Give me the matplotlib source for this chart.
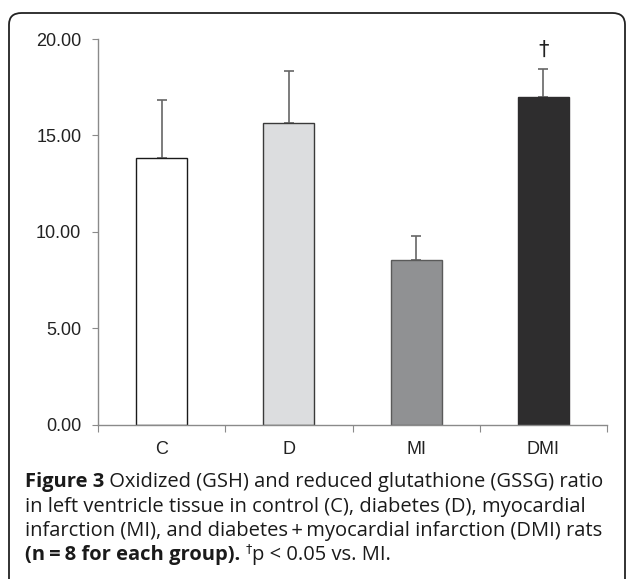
import matplotlib.pyplot as plt
from matplotlib.patches import FancyBboxPatch

# values
groups = ["C", "D", "MI", "DMI"]
means = [13.83, 15.65, 8.54, 17.0]
sem_upper = [3.0, 2.7, 1.25, 1.45]
bar_colors = ["#ffffff", "#dcdddf", "#909193", "#2e2d2e"]
edge_colors = ["#1a1a1a", "#3a3a3a", "#5a5a5a", "#2e2d2e"]
y_ticks = [0, 5, 10, 15, 20]
marker_group = "DMI"

W, H = 627, 579
fig = plt.figure(figsize=(W / 100, H / 100), dpi=100)

# rounded frame around the figure panel (runs off the right and bottom)
frame = FancyBboxPatch((9 / W, -20 / H), (625 - 9) / W, (H - 13 + 20) / H,
                       boxstyle="round,pad=0,rounding_size=0.02",
                       transform=fig.transFigure, fill=False,
                       edgecolor="#222222", linewidth=1.3, clip_on=False)
fig.patches.append(frame)

ax = fig.add_axes([98 / W, 1 - 424.5 / H, (607 - 98) / W, (424.5 - 39) / H])
x = [i + 0.5 for i in range(len(groups))]
ax.bar(x, means, width=0.4, color=bar_colors, edgecolor=edge_colors, linewidth=1.0, zorder=2)
ax.errorbar(x, means, yerr=[[0] * len(means), sem_upper], fmt="none",
            ecolor="#666666", elinewidth=1.2, capsize=3.5, capthick=1.2, zorder=1)

ax.set_xlim(0, len(groups))
ax.set_ylim(0, 20)
ax.set_yticks(y_ticks)
ax.set_yticklabels([f"{v:.2f}" for v in y_ticks], fontsize=13, family="Liberation Sans", color="#222222")
ax.set_xticks(range(len(groups) + 1))
ax.set_xticklabels([])
ax.set_xticks(x, minor=True)
ax.set_xticklabels(groups, minor=True, fontsize=13, family="Liberation Sans", color="#222222")
ax.tick_params(axis="x", which="major", length=5, color="#8a8a8a", direction="out")
ax.tick_params(axis="x", which="minor", length=0, pad=12)
ax.tick_params(axis="y", length=4, color="#8a8a8a", pad=8)
for s in ["top", "right"]:
    ax.spines[s].set_visible(False)
for s in ["left", "bottom"]:
    ax.spines[s].set_color("#8a8a8a")
    ax.spines[s].set_linewidth(1.0)

i = groups.index(marker_group)
ax.text(x[i], means[i] + sem_upper[i] + 0.45, "\u2020", ha="center", va="bottom",
        fontsize=15, family="DejaVu Sans", color="#222222")

# caption with bold lead-in pieces
cap_font = "Open Sans"
cap_size = 14.5
lines = [
    [("Figure 3", "bold"), (" Oxidized (GSH) and reduced glutathione (GSSG) ratio", "normal")],
    [("in left ventricle tissue in control (C), diabetes (D), myocardial", "normal")],
    [("infarction (MI), and diabetes\u2009+\u2009myocardial infarction (DMI) rats", "normal")],
    [("(n\u2009=\u20098 for each group).", "bold"), (" ", "normal"), ("\u2020", "sup"),
     ("p < 0.05 vs. MI.", "normal")],
]
line_y = [482, 507, 531, 555]
renderer = fig.canvas.get_renderer()
for pieces, yy in zip(lines, line_y):
    xpos = 25
    for txt, style in pieces:
        if style == "sup":
            t = fig.text(xpos / W, 1 - (yy - 6) / H, txt, fontsize=9,
                         family=["DejaVu Sans"], va="center", ha="left", color="#1a1a1a")
        else:
            t = fig.text(xpos / W, 1 - yy / H, txt, fontsize=cap_size,
                         family=[cap_font, "DejaVu Sans"], weight=style,
                         va="center", ha="left", color="#1a1a1a")
        bb = t.get_window_extent(renderer)
        xpos += bb.width

fig.savefig("out.png", dpi=100)
